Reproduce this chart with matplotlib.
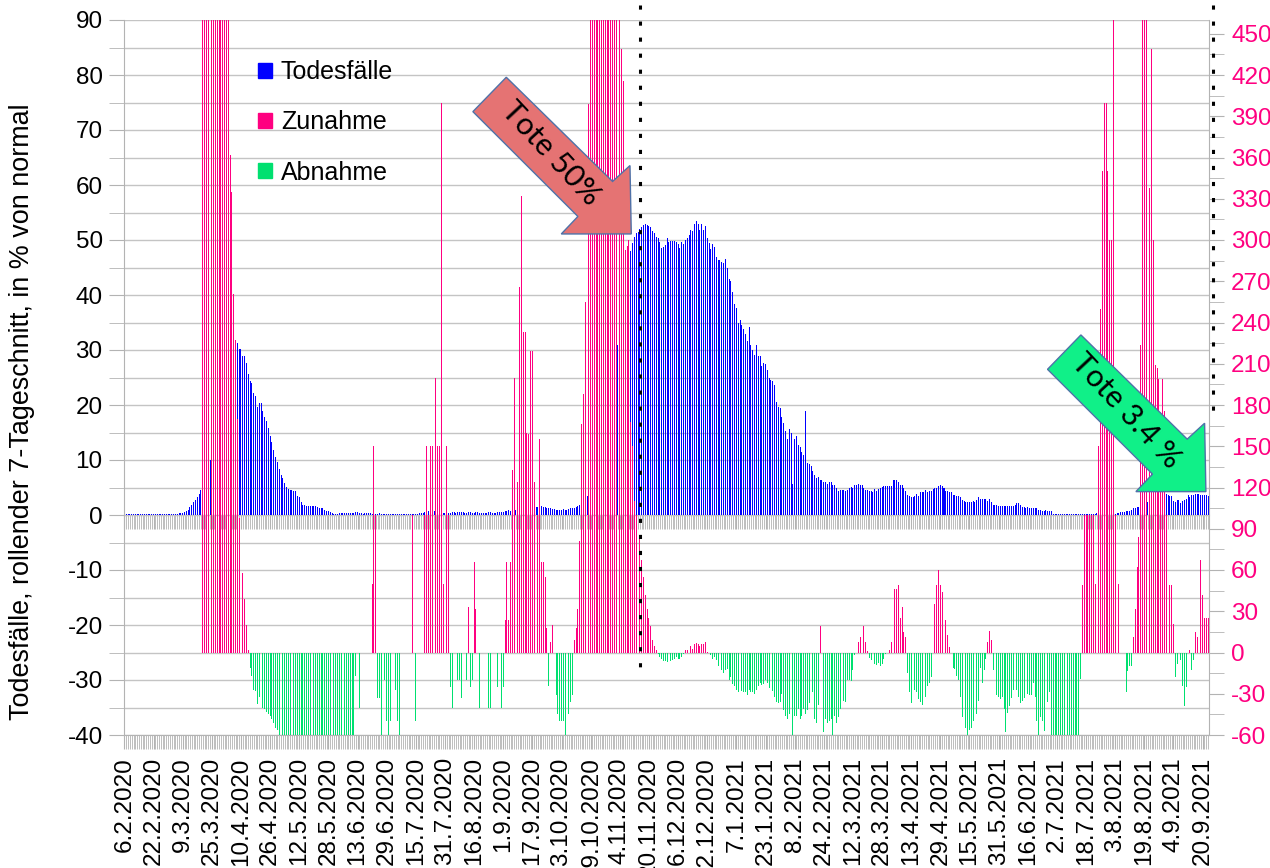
import matplotlib
matplotlib.use("Agg")
import matplotlib.pyplot as plt
import matplotlib.transforms as mtransforms
from matplotlib.patches import Polygon, Patch
from matplotlib.ticker import MultipleLocator
import numpy as np

plt.rcParams['font.family'] = ['Liberation Sans', 'DejaVu Sans']
plt.rcParams['axes.unicode_minus'] = False

# x-axis labels, one every 16 days starting 6.2.2020
tick_labels = ['6.2.2020', '22.2.2020', '9.3.2020', '25.3.2020', '10.4.2020', '26.4.2020',
               '12.5.2020', '28.5.2020', '13.6.2020', '29.6.2020', '15.7.2020', '31.7.2020',
               '16.8.2020', '1.9.2020', '17.9.2020', '3.10.2020', '19.10.2020', '4.11.2020',
               '20.11.2020', '6.12.2020', '22.12.2020', '7.1.2021', '23.1.2021', '8.2.2021',
               '24.2.2021', '12.3.2021', '28.3.2021', '13.4.2021', '29.4.2021', '15.5.2021',
               '31.5.2021', '16.6.2021', '2.7.2021', '18.7.2021', '3.8.2021', '19.8.2021',
               '4.9.2021', '20.9.2021']

# deaths, rolling 7-day mean in % of normal (left axis), one value per day
todesfaelle = [
    # 6.2.-5.3.2020
    0.2, 0.2, 0.2, 0.2, 0.2, 0.2, 0.2, 0.2, 0.2, 0.2,
    0.2, 0.2, 0.2, 0.2, 0.2, 0.2, 0.2, 0.2, 0.2, 0.2,
    0.2, 0.2, 0.2, 0.2, 0.2, 0.2, 0.2, 0.2, 0.2,
    # first wave
    0.2, 0.3, 0.3, 0.4, 0.6, 0.8, 1.0, 1.4, 1.9, 2.3, 2.7, 3.3, 3.9, 4.5,
    5.0, 6.0, 7.1, 8.3, 10.0, 12.0, 14.0, 16.0, 18.2, 20.0,
    22.0, 24.5, 26.5, 28.9, 30.3, 30.8, 31.2, 31.5, 31.3,
    31.3, 30.2, 30.2, 28.9, 28.9, 27.6, 25.7, 24.3, 24.0, 22.2,
    21.6, 19.6, 20.3, 20.3, 19.0, 17.8, 17.1, 15.8, 14.3, 13.2,
    11.9, 10.6, 9.7, 8.4, 7.3, 6.7, 5.8, 5.1, 4.8, 4.5,
    4.5, 4.3, 4.3, 3.5, 3.2, 2.3,
    1.9, 1.8, 1.7, 1.7, 1.7, 1.7, 1.6, 1.7, 1.5, 1.3, 1.3, 1.3, 1.0, 0.8, 0.7, 0.6, 0.3,
    # summer 2020
    0.2, 0.2, 0.2, 0.3, 0.3, 0.3, 0.3, 0.4, 0.4, 0.4,
    0.3, 0.4, 0.6, 0.5, 0.3, 0.3, 0.2, 0.4, 0.4, 0.3,
    0.3, 0.2, 0.2, 0.2, 0.2, 0.3, 0.2, 0.2, 0.2, 0.2,
    0.2, 0.2, 0.2, 0.2, 0.2, 0.2, 0.2, 0.2, 0.2, 0.2,
    0.2, 0.2, 0.2, 0.2, 0.2, 0.2, 0.2, 0.3, 0.3, 0.4,
    0.5, 0.6, 0.8, 0.6, 0.6, 0.7, 0.7, 0.5, 0.3, 0.3,
    0.4, 0.4, 0.5, 0.4, 0.4, 0.5, 0.6, 0.4, 0.5, 0.5,
    0.6, 0.5, 0.4, 0.4, 0.5, 0.5, 0.4, 0.4, 0.5, 0.5,
    0.4, 0.4, 0.4, 0.4, 0.4, 0.5, 0.5, 0.4, 0.4, 0.4,
    0.5, 0.5, 0.5, 0.6, 0.8, 0.8, 0.9, 0.8, 0.8, 0.9,
    1.0, 0.9, 1.0, 1.2, 1.3, 1.2, 1.1, 1.1, 1.2, 1.4,
    1.6, 1.5, 1.5, 1.8, 1.7, 1.5, 1.4, 1.3, 1.2, 1.2,
    1.1, 1.1, 1.0, 1.0, 1.0, 1.0, 1.1, 1.0, 1.0, 1.1,
    1.2, 1.2, 1.3, 1.5, 1.6,
    # second wave
    1.9, 2.3, 2.7, 3.1, 3.5, 4.2, 5.0, 5.5, 5.8, 6.5,
    7.5, 9.0, 10.5, 11.7, 13.5, 15.5, 17.5, 19.5, 22.2, 25.0,
    28.0, 31.0, 34.0, 37.5, 40.3, 41.5, 44.0, 46.0, 48.0, 49.5,
    50.5, 51.2, 51.5, 52.0, 52.4, 52.8, 53.0, 52.8, 52.5,
    52.3, 51.7, 51.2, 50.6, 50.3, 49.6, 48.6, 48.8, 49.1, 50.3,
    49.6, 49.9, 49.9, 49.9, 49.6, 49.3, 48.6, 49.7, 49.3, 50.0,
    50.3, 50.9, 51.9, 51.6, 53.0, 53.4, 53.0, 51.9, 53.0, 51.9,
    52.6, 50.3, 49.5, 48.3, 49.3, 48.7, 46.9, 46.3, 46.3, 46.0,
    45.8, 46.6, 45.0, 43.0, 42.5, 40.6, 38.3, 37.6, 35.0, 35.4,
    34.5, 33.8, 33.0, 31.7, 34.1, 31.0, 30.0, 29.1, 30.9, 28.9,
    28.9, 27.1, 27.6, 27.4, 26.3, 25.0, 24.5, 24.3, 23.7, 20.6,
    19.6, 19.5, 17.8, 16.7, 15.2, 13.9, 15.7, 15.0, 5.7, 13.9,
    14.3, 12.8, 12.3, 11.5, 10.9, 19.0, 9.5, 9.3, 8.9, 8.0,
    7.3, 6.7, 6.9, 6.3, 6.3, 6.0, 6.0, 5.7,
    # spring 2021
    6.0, 6.0, 5.4, 5.4, 5.0, 4.3, 4.5, 4.5, 4.5, 4.3,
    4.6, 5.0, 5.1, 5.0, 5.4, 5.4, 5.7, 5.4, 5.4, 5.0,
    4.5, 4.5, 4.3, 4.3, 4.1, 4.8, 4.3, 4.8, 5.0, 5.1, 5.2,
    5.2, 5.2, 5.2, 5.2, 6.3, 6.3, 6.3, 6.0, 5.4, 5.4, 5.0,
    4.3, 3.7, 3.5, 3.2, 3.2, 3.5, 3.8, 3.5, 4.1, 4.1, 4.1,
    4.5, 4.1, 4.3, 4.3, 4.8, 5.0, 5.0, 5.2, 5.4, 5.2, 5.0,
    4.3, 4.3, 4.1, 4.1, 3.7, 3.7, 3.5, 3.5, 3.2, 2.8, 2.6,
    2.3, 2.3, 2.3, 2.3, 2.6, 2.3, 2.8, 3.2, 3.0, 3.0, 3.0,
    3.0, 2.6, 3.0, 2.3, 1.9, 1.9, 1.8, 1.7, 1.7, 1.7, 1.7,
    # summer 2021
    1.7, 1.7, 1.6, 1.7, 1.7, 1.9, 2.1, 2.1, 1.8, 1.5, 1.5, 1.3,
    1.4, 1.3, 1.3, 1.3, 1.3, 1.3, 1.0, 1.0, 0.8, 0.8, 1.0, 0.8, 0.8, 0.8,
    0.2, 0.2, 0.1, 0.1, 0.15, 0.15, 0.15, 0.1, 0.15, 0.15,
    0.1, 0.15, 0.15, 0.1, 0.15, 0.15, 0.15, 0.1, 0.15, 0.15,
    0.15, 0.15, 0.2, 0.2, 0.3,
    0.8, 0.4, 0.3, 0.5, 0.9, 1.0, 0.4, 0.3, 0.2, 0.2, 0.3,
    0.4, 0.5, 0.6, 0.6, 0.8, 0.8, 0.8, 1.0, 1.2, 1.3, 1.5, 1.5,
    1.5, 1.6, 2.3, 2.3, 2.3, 2.4, 2.6, 2.8, 3.0, 3.2, 3.4, 3.6, 3.8,
    3.8, 3.8, 3.7, 3.4, 3.4, 2.6, 2.3, 2.8, 2.8, 2.2,
    2.6, 2.8, 3.0, 3.7, 3.2, 3.7, 3.7, 3.8, 3.8, 3.8,
    3.7, 3.7, 3.6, 3.6, 3.5,
]

# weekly change of deaths in % (right axis): > 0 Zunahme, < 0 Abnahme
veraenderung = [
    0, 0, 0, 0, 0, 0, 0, 0, 0, 0,
    0, 0, 0, 0, 0, 0, 0, 0, 0, 0,
    0, 0, 0, 0, 0, 0, 0, 0, 0, 0,
    0, 0, 0, 0, 0, 0, 0, 0, 0, 0,
    0, 0, 0,
    500, 500, 500, 500, 500, 500, 500, 500, 500, 500, 500, 500, 500, 500, 500,
    362, 335, 261, 227, 170, 98, 96, 58, 39, 20, 2,
    -11.5, -17, -27, -28, -37.6, -32, -37.6, -40, -41, -43, -44.5, -46, -48, -51, -55, -56,
    -60, -60, -60, -60, -60, -60, -60, -60, -60, -60,
    -60, -60, -60, -60, -60, -60, -60, -60, -60, -60,
    -60, -60, -60, -60, -60, -60, -60, -60, -60, -60,
    -60, -60, -60, -60, -60, -60, -60, -60, -60, -60,
    -60, -60,
    -17, 0, -40, 0, 200, 0, 0, 0, 0, 50,
    150, 100, -33, -33, -60, -60, -20, -50, -60, -50,
    0, 0, -27, -50, -60, 0, 0, 0, 0, 0,
    0, 100, 100, -50, 0, 0, 0, 0, 100, 150,
    100, 150, 150, 150, 200, 150, 150, 400, 50, 100,
    150, 100, -25, -40, 0, 0, -20, -20, -33, 0,
    0, -20, 33, -25, -20, 66,
    32, 0, -40, 0, 0, -25, 0, -40, -40, 0,
    0, 0, -25, 0, -40, -25, 24, 66, 24, 66,
    133, 200, 200, 124, 266, 332, 233, 233, 160, 159,
    219, 219, 124, 160, 100, 155, 66, 66, 55, 18,
    -24, 8, 20, 0, -31, -45, -50, -50, -50, -60,
    -50, -45, -36, -31, 9, 18, 32, 81, 166, 188,
    255, 303, 399,
    500, 500, 500, 500, 500, 500, 500, 500, 500, 500, 500, 500, 500, 500, 500, 500, 500,
    439, 416, 293, 296, 300, 168, 150, 110, 100, 95,
    84, 67, 55, 42, 32, 25, 19, 9, 5, 2,
    -1, -3, -4.5, -6, -6, -7, -6, -6, -5.5, -4.5, -3.5, -4.5, -4.5, -3, -1.4,
    2, 2, 3, 5, 2.5, 6, 7, 6, 5, 6, 6, 7.6, 0.7,
    0, -2, -4.5, -3, -5.5, -10, -10.5, -13, -15, -13,
    -12, -19.8, -17.5, -23, -24, -27, -29, -30, -28, -29,
    -29, -31, -27, -29, -29, -30, -27, -24, -22, -23.5,
    -23, -20, -22, -25.5, -24.5, -28, -32, -36, -37, -36,
    -30, -42, -46, -48, -44.5, -45, -60, -46, -46, -41,
    -48, -46, -41, -44.5, -42, -37, -41, -29, -48, -51,
    -38, 19, -50, -58, -48, -51, -50,
    -48, -60, -46, -51, -47, -41, -37, -35, -36, -20, -20, -21, -12.5, -2,
    0, 7.6, 11, 22, 19, 8, 1.4,
    -4, -5.5, -15, -8, -9, -7.5, -9.7, -8, -4.5, -1,
    0, 2, 7.6, 12, 46, 46, 49, 25, 33, 15, 11,
    -15, -29, -37, -36, -27, -29, -34, -36, -38, -35, -32, -24, -22, -18,
    0, 35, 49, 60, 49, 44, 48, 24, 13, 4,
    0, -11.5, -12, -17, -20, -32, -47, -50, -55, -60,
    -56, -55, -50, -44, -45, -35, -11.5, -22, -12.5,
    -4.5, 7.6, 16, 9,
    -13, -17, -31, -32, -34, -32, -41, -58, -44, -39,
    -33, -27, -36, -27, -32, -37, -35, -33, -24, -30,
    -31, -31, -22, -32, -50, -60, -47, -50, -57, -46,
    -36, -29,
    -60, -60, -60, -60, -60, -60, -60, -60, -60, -60, -60, -60, -60, -60, -60, -60,
    -19,
    49, 100, 100, 100, 100, 100, 100, 50,
    0, 150, 250, 350, 400, 400, 350, 300, 300, 500, 100, 50, 50,
    0, 0, 0, -29, -13.5, -10, -10,
    11, 32, 62, 84, 224, 500, 500, 500, 500, 338,
    439, 300, 209, 207, 199, 175, 199, 176, 100, 98,
    49, 49, 21,
    -18, -8, 0, -5.5, -24, -39, -25, 0, 2, -13, -5.5,
    15, 11, 41, 67, 42, 25, 25, 25,
]

assert len(todesfaelle) == len(veraenderung), (len(todesfaelle), len(veraenderung))

BLUE = '#0000ff'
PINK = '#ff0080'
GREEN = '#00e070'
GREY = '#b3b3b3'

x = np.arange(len(todesfaelle))
chg = np.array(veraenderung, dtype=float)
zunahme = np.where(chg > 0, chg, 0)
abnahme = np.where(chg < 0, chg, 0)

fig = plt.figure(figsize=(12.7, 8.68), dpi=100)
ax = fig.add_axes([123.5 / 1270, 133 / 868, 1085.5 / 1270, 715 / 868])
ax2 = ax.twinx()

ax.bar(x, todesfaelle, width=0.55, color=BLUE, linewidth=0)
ax2.bar(x, zunahme, width=0.5, color=PINK, linewidth=0)
ax2.bar(x, abnahme, width=0.5, color=GREEN, linewidth=0)

ax.set_xlim(-0.5, len(x) - 0.5)
ax.set_ylim(-40, 90)
ax2.set_ylim(-60, 460)

# left axis
ax.yaxis.set_major_locator(MultipleLocator(10))
ax.yaxis.set_minor_locator(MultipleLocator(5))
ax.grid(axis='y', which='both', color='#c4c4c4', lw=1)
ax.set_axisbelow(True)
ax.tick_params(axis='y', which='both', length=11, color=GREY, labelsize=17.5, pad=4)

# right axis
ax2.yaxis.set_major_locator(MultipleLocator(30))
ax2.yaxis.set_minor_locator(MultipleLocator(15))
ax2.tick_params(axis='y', which='both', length=11, color=GREY, labelsize=17.5,
                labelcolor=PINK, pad=5)

# x axis
ax.set_xticks(x[::16], tick_labels, rotation=90)
ax.xaxis.set_minor_locator(MultipleLocator(1))
ax.tick_params(axis='x', which='both', length=10, color=GREY, labelsize=17.5, pad=6)

# second tick row along the zero line
sec = ax.secondary_xaxis(40 / 130)
sec.xaxis.set_major_locator(MultipleLocator(16))
sec.xaxis.set_minor_locator(MultipleLocator(1))
sec.tick_params(which='both', length=10, color=GREY, labelbottom=False, labeltop=False)
sec.spines['bottom'].set_color('#c4c4c4')

for a in (ax, ax2):
    a.spines['top'].set_visible(False)
ax.spines['right'].set_visible(False)
ax2.spines['left'].set_visible(False)
ax2.spines['bottom'].set_visible(False)
for s in ('left', 'bottom'):
    ax.spines[s].set_color(GREY)
ax2.spines['right'].set_color(GREY)

fig.text(22 / 1270, 1 - 412 / 868, 'Todesfälle, rollender 7-Tageschnitt, in % von normal',
         rotation=90, ha='center', va='center', fontsize=19.4)

handles = [Patch(color=BLUE), Patch(color=PINK), Patch(color=GREEN)]
ax2.legend(handles, ['Todesfälle', 'Zunahme', 'Abnahme'], loc='upper left',
           bbox_to_anchor=(0.124, 0.944), frameon=False, fontsize=18,
           handlelength=0.56, handleheight=0.56, handletextpad=0.35,
           labelspacing=1.05, borderpad=0, borderaxespad=0)

# dotted markers
xt = ax2.get_xaxis_transform()
for xpos, ybot in ((283, 0.091), (597.7, 0.438)):
    ax2.plot([xpos, xpos], [1.021, ybot], transform=xt, color='black', lw=2.2,
             ls=(0, (1.35, 3.9)), clip_on=False, zorder=6)

# block arrows (pixel offsets relative to the tip, y down)
arrow_shape = [(-125, -156.7), (-158.4, -122.3), (-53.4, -17.5), (-70, 0),
               (0, 0), (-1.3, -68.4), (-18.7, -52.5)]


def block_arrow(tip, text, face):
    trans = mtransforms.Affine2D().scale(1, -1) + \
        mtransforms.ScaledTranslation(tip[0], tip[1], ax.transData)
    poly = Polygon(arrow_shape, closed=True, facecolor=face, edgecolor='#4f72a8',
                   lw=1, transform=trans, clip_on=False, zorder=7)
    ax2.add_patch(poly)
    ttrans = mtransforms.offset_copy(ax.transData, fig=fig, x=-80, y=81, units='dots')
    ax2.text(tip[0], tip[1], text, transform=ttrans, rotation=-47, ha='center',
             va='center', fontsize=22, family=['Lato', 'DejaVu Sans'], zorder=8,
             rotation_mode='anchor')


block_arrow((278.3, 51.1), 'Tote 50%', '#e57373')
block_arrow((593.8, 4.25), 'Tote 3.4 %', '#10f088')

fig.savefig('out.png', dpi=100)
